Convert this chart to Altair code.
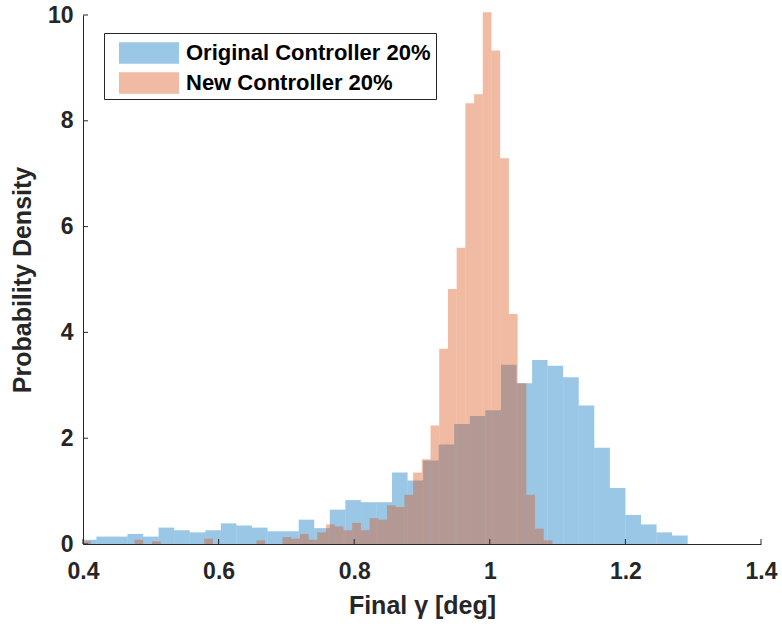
import altair as alt
import numpy as np
import pandas as pd

# Series names (legend order)
series_names = ["Original Controller 20%", "New Controller 20%"]
series_colors = ["#0072BD", "#D95319"]

# Original controller: histogram bins (first left edge, bin width) and pdf heights
orig_first_edge = 0.3968
orig_bin_width = 0.02295
orig_density = [
    0.08, 0.14, 0.14, 0.19, 0.14, 0.31, 0.26, 0.22, 0.26, 0.39,
    0.35, 0.31, 0.24, 0.24, 0.46, 0.30, 0.65, 0.83, 0.79, 0.79,
    1.35, 1.20, 1.58, 1.88, 2.27, 2.42, 2.53, 3.39, 3.04, 3.48,
    3.37, 3.15, 2.62, 1.82, 1.06, 0.55, 0.37, 0.22, 0.16,
]

# New controller: histogram bins (first left edge, bin width) and pdf heights
new_first_edge = 0.3990
new_bin_width = 0.01284
new_density = [
    0.05, 0, 0, 0, 0, 0, 0.08, 0, 0.05, 0,
    0, 0, 0, 0, 0.10, 0, 0, 0, 0, 0,
    0.07, 0, 0, 0.13, 0.10, 0.19, 0.08, 0.22, 0.37, 0.33,
    0.26, 0.40, 0.26, 0.49, 0.46, 0.73, 0.70, 0.93, 1.35, 1.60,
    2.24, 3.69, 4.82, 5.60, 8.33, 8.50, 10.05, 9.33, 7.29, 4.35,
    3.04, 0.93, 0.29, 0.07,
]

x_tick_values = [0.4, 0.6, 0.8, 1.0, 1.2, 1.4]
y_tick_values = [0, 2, 4, 6, 8, 10]


def hist_frame(name, first_edge, width, density):
    left = first_edge + width * np.arange(len(density))
    df = pd.DataFrame({
        "series": name,
        "left": left,
        "right": left + width,
        "density": density,
    })
    return df[df["density"] > 0]


orig_df = hist_frame(series_names[0], orig_first_edge, orig_bin_width, orig_density)
new_df = hist_frame(series_names[1], new_first_edge, new_bin_width, new_density)

FONT = "Liberation Sans"
AXIS_COLOR = "#262626"

x_scale = alt.Scale(domain=[0.4, 1.4], nice=False, zero=False)
y_scale = alt.Scale(domain=[0, 10], nice=False)

color = alt.Color(
    "series:N",
    scale=alt.Scale(domain=series_names, range=series_colors),
    legend=alt.Legend(title=None),
)

x_enc = alt.X(
    "left:Q",
    scale=x_scale,
    axis=alt.Axis(values=x_tick_values, format="~g", title="Final γ [deg]"),
)
y_enc = alt.Y(
    "density:Q",
    scale=y_scale,
    axis=alt.Axis(values=y_tick_values, format="d", title="Probability Density"),
)

orig_bars = alt.Chart(orig_df).mark_rect(opacity=0.4, clip=True).encode(
    x=x_enc, x2="right:Q", y=y_enc, y2=alt.datum(0), color=color
)
new_bars = alt.Chart(new_df).mark_rect(opacity=0.4).encode(
    x=x_enc, x2="right:Q", y=y_enc, y2=alt.datum(0), color=color
)

# Inward-pointing tick marks on both axes
x_ticks = alt.Chart(pd.DataFrame({"left": x_tick_values})).mark_tick(
    orient="vertical", size=5, thickness=1, yOffset=-2.5, color=AXIS_COLOR, opacity=1
).encode(x=alt.X("left:Q", scale=x_scale), y=alt.datum(0))
y_ticks = alt.Chart(pd.DataFrame({"density": y_tick_values})).mark_tick(
    orient="horizontal", size=5, thickness=1, xOffset=2.5, color=AXIS_COLOR, opacity=1
).encode(y=alt.Y("density:Q", scale=y_scale), x=alt.datum(0.4))

# Wide rectangular legend swatch (path units scale with sqrt(symbolSize) / 2)
legend_symbol = "M-0.333,-0.72L3.667,-0.72L3.667,0.72L-0.333,0.72Z"

chart = (
    alt.layer(orig_bars, new_bars, x_ticks, y_ticks)
    .properties(
        width=678,
        height=529,
        autosize=alt.AutoSizeParams(type="none"),
        padding={"left": 83, "top": 15, "right": 21, "bottom": 80},
        background="white",
    )
    .configure_view(stroke="transparent")
    .configure_axis(
        grid=False,
        ticks=False,
        domainColor=AXIS_COLOR,
        domainWidth=1,
        labelFont=FONT,
        labelFontWeight="bold",
        labelFontSize=23,
        labelColor=AXIS_COLOR,
        labelFlush=False,
        labelOverlap=False,
        titleFont=FONT,
        titleFontWeight="bold",
        titleFontSize=25,
        titleColor=AXIS_COLOR,
    )
    .configure_axisX(labelPadding=16, titlePadding=10)
    .configure_axisY(labelPadding=10, titlePadding=12)
    .configure_legend(
        orient="none",
        legendX=21,
        legendY=18,
        padding=5,
        strokeColor=AXIS_COLOR,
        fillColor="white",
        cornerRadius=0,
        symbolType=legend_symbol,
        symbolSize=900,
        symbolOpacity=0.4,
        symbolStrokeWidth=0,
        labelFont=FONT,
        labelFontWeight="bold",
        labelFontSize=22,
        labelColor="black",
        labelOffset=47,
        rowPadding=4,
        labelLimit=400,
    )
)

chart.save("out.html", embed_options={"renderer": "svg", "actions": False})
